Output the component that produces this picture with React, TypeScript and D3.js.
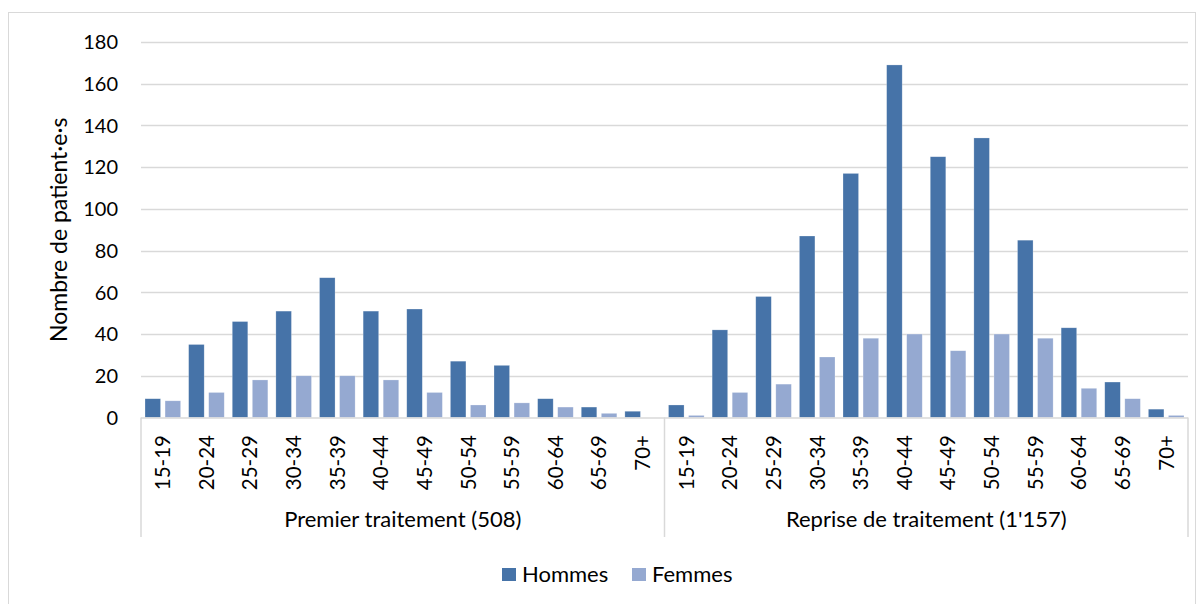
import React from "react";
import * as d3 from "d3";

const ageGroups = ["15-19","20-24","25-29","30-34","35-39","40-44","45-49","50-54","55-59","60-64","65-69","70+"];
const groups = ["Premier traitement (508)", "Reprise de traitement (1'157)"];
const seriesNames = ["Hommes", "Femmes"];
const premierHommes = [9,35,46,51,67,51,52,27,25,9,5,3];
const premierFemmes = [8,12,18,20,20,18,12,6,7,5,2,0];
const repriseHommes = [6,42,58,87,117,169,125,134,85,43,17,4];
const repriseFemmes = [1,12,16,29,38,40,32,40,38,14,9,1];
const yTicks = [0,20,40,60,80,100,120,140,160,180];
const yTitle = "Nombre de patient·e·s";

const colors = ["#4673a8", "#95a9d1"];
const FONT = "Lato, 'Open Sans', sans-serif";

export default function App() {
  const W = 1203, H = 604;
  const left = 141, right = 1188, top = 42, bottom = 417.5;

  const rows = [
    ...ageGroups.map((a, i) => ({ key: "0-" + a, label: a, group: 0, vals: [premierHommes[i], premierFemmes[i]] })),
    ...ageGroups.map((a, i) => ({ key: "1-" + a, label: a, group: 1, vals: [repriseHommes[i], repriseFemmes[i]] })),
  ];

  const x0 = d3.scaleBand<string>().domain(rows.map(r => r.key)).range([left, right]).padding(0);
  const x1 = d3.scaleBand<string>().domain(seriesNames).range([0, x0.bandwidth()]).paddingInner(0.225).paddingOuter(0.2);
  const y = d3.scaleLinear().domain([0, 180]).range([bottom, top]);

  const groupBounds = groups.map((g, gi) => {
    const ks = rows.filter(r => r.group === gi).map(r => r.key);
    const a = x0(ks[0])!;
    const b = x0(ks[ks.length - 1])! + x0.bandwidth();
    return { g, a, b };
  });

  const boxBottom = 537;

  return (
    <svg width={W} height={H} style={{ position: "absolute", left: 0, top: 0, background: "#fff" }} fontFamily={FONT}>
      <rect x={8.5} y={12.5} width={1187} height={620} fill="#fff" stroke="#d9d9d9" strokeWidth={1} />
      {yTicks.map(t => (
        <g key={t}>
          {t !== 0 && <line x1={left} x2={right} y1={Math.round(y(t)) + 0.5} y2={Math.round(y(t)) + 0.5} stroke="#d9d9d9" strokeWidth={1.5} />}
          <text x={118} y={y(t)} dy="0.36em" textAnchor="end" fontSize={20} fill="#000">{t}</text>
        </g>
      ))}
      <text transform={`translate(67,${(top + bottom) / 2}) rotate(-90)`} textAnchor="middle" fontSize={23} fill="#000">{yTitle}</text>

      {rows.map(r => (
        <g key={r.key} transform={`translate(${x0(r.key)},0)`}>
          {r.vals.map((v, si) => (
            v > 0 ? <rect key={si} x={x1(seriesNames[si])} y={y(v)} width={x1.bandwidth()} height={bottom - y(v)} fill={colors[si]} stroke="#ffffff" strokeOpacity={0.4} strokeWidth={0.6} /> : null
          ))}
          <text transform={`translate(${x0.bandwidth() / 2},435) rotate(-90)`} textAnchor="end" dy="0.36em" fontSize={20.5} fill="#000">{r.label}</text>
        </g>
      ))}

      <line x1={left} x2={right} y1={bottom + 0.5} y2={bottom + 0.5} stroke="#d9d9d9" strokeWidth={1.5} />
      {[left, groupBounds[0].b, right].map((xv, i) => (
        <line key={i} x1={xv} x2={xv} y1={bottom} y2={boxBottom} stroke="#d9d9d9" strokeWidth={1.5} />
      ))}
      {groupBounds.map(gb => (
        <text key={gb.g} x={(gb.a + gb.b) / 2} y={527} textAnchor="middle" fontSize={22} fill="#000">{gb.g}</text>
      ))}

      {seriesNames.map((s, i) => {
        const lx = [502, 632][i];
        return (
          <g key={s}>
            <rect x={lx} y={568} width={14} height={13} fill={colors[i]} />
            <text x={lx + 20} y={582} fontSize={22} fill="#000">{s}</text>
          </g>
        );
      })}
    </svg>
  );
}
